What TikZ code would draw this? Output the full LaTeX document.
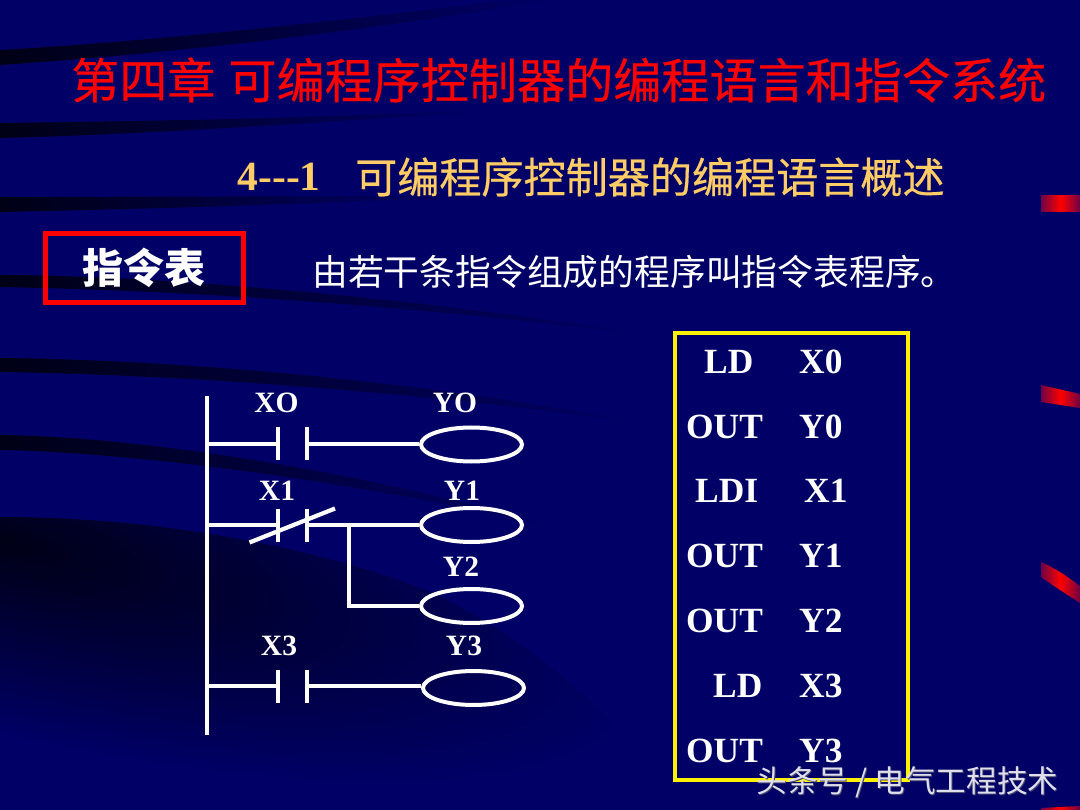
\documentclass[tikz,border=0pt]{standalone}
\usepackage{fontspec}
\usetikzlibrary{fadings,shapes.geometric,calc}
\setmainfont{Liberation Serif}
\newfontfamily\cjk{Noto Sans CJK SC}
\newfontfamily\cjkheavy[FakeBold=0.45]{Noto Sans CJK SC}
\definecolor{navy}{RGB}{0,0,102}
\definecolor{band}{RGB}{0,0,22}
\definecolor{gold}{RGB}{255,204,102}
\definecolor{markred}{RGB}{255,0,0}
\definecolor{markdim}{RGB}{110,0,70}
\definecolor{wm}{RGB}{222,222,236}
\definecolor{wmshadow}{RGB}{70,70,110}
\tikzfading[name=leftfade,left color=transparent!0,right color=transparent!100]
\tikzset{
 wire/.style={draw=white,line width=4.2pt},
 bar/.style={draw=white,line width=4.8pt},
 coil/.style={ellipse,draw=white,line width=4pt,minimum width=101pt,minimum height=34pt,inner sep=0pt},
 lab/.style={text=white,font=\bfseries\fontsize{29.5}{29.5}\selectfont,anchor=center,inner sep=0pt},
 instr/.style={text=white,font=\bfseries\fontsize{35.4}{35.4}\selectfont,anchor=base west,inner sep=0pt},
 swoosh/.style={fill=band,draw=none,path fading=leftfade},
 redmark/.style={left color=markdim,right color=markdim,middle color=markred,draw=none},
 wmtext/.style={font=\cjk\fontsize{30.7}{30.7}\selectfont,inner sep=0pt,anchor=center}
}
\begin{document}
\begin{tikzpicture}[x=1pt,y=-1pt]
\useasboundingbox (0,0) rectangle (1080,810);
\fill[navy] (0,0) rectangle (1080,810);
% dark swooshes
\fill[swoosh] (0,50) .. controls (180,40) and (380,15) .. (516,0) -- (550,0) .. controls (400,25) and (220,50) .. (0,65) -- cycle;
\fill[swoosh] (0,123) .. controls (160,121) and (320,118) .. (480,110) -- (480,112) .. controls (320,122) and (160,134) .. (0,138) -- cycle;
\fill[swoosh] (0,197) -- (450,196) -- (450,198) .. controls (300,204) and (150,209) .. (0,212) -- cycle;
\fill[swoosh] (0,275) .. controls (140,275) and (400,295) .. (650,335) .. controls (400,305) and (200,291) .. (0,287) -- cycle;
\fill[swoosh] (0,358) .. controls (200,360) and (450,385) .. (650,425) .. controls (450,395) and (200,375) .. (0,372) -- cycle;
\fill[swoosh] (0,435) .. controls (160,437) and (400,480) .. (564,530) .. controls (400,490) and (160,453) .. (0,450) -- cycle;
\begin{scope}
\clip (0,517) .. controls (180,517) and (340,555) .. (433,593) .. controls (530,640) and (610,710) .. (660,780) -- (660,810) -- (0,810) -- cycle;
\shade[transform canvas={rotate around={-14:(0,540)}},inner color=band,outer color=navy] (0,540) ellipse (660 and 190);
\end{scope}
% red side marks
\shade[redmark] (1041,196) -- (1080,196) -- (1080,212) -- (1041,212) -- cycle;
\shade[redmark] (1041,385) -- (1080,394) -- (1080,408) -- (1041,402) -- cycle;
\shade[redmark] (1041,562) .. controls (1055,568) and (1068,577) .. (1080,586) -- (1080,603) .. controls (1068,595) and (1055,587) .. (1041,577) -- cycle;
\shade[redmark] (1041,808) -- (1080,806) -- (1080,810) -- (1041,810) -- cycle;
% titles
\node[inner sep=0pt,anchor=west,text=red,font=\cjkheavy\fontsize{48.1}{48.1}\selectfont] (title) at (71,80) {第四章\hspace{13pt}可编程序控制器的编程语言和指令系统};
\node[inner sep=0pt,anchor=base west,text=gold,font=\bfseries\fontsize{41.5}{41.5}\selectfont] (secnum) at (237.5,191) {4-{}-{}-1};
\node[inner sep=0pt,anchor=west,text=gold,font=\cjkheavy\fontsize{42.1}{42.1}\selectfont] (sec) at (355,177) {可编程序控制器的编程语言概述};
\node[draw=red,line width=5pt,inner sep=0pt,minimum width=197.5pt,minimum height=69pt,text=white,font=\cjk\bfseries\fontsize{41}{41}\selectfont] (zlb) at (144.25,268) {指令表};
\node[inner sep=0pt,anchor=west,text=white,font=\cjk\fontsize{35.8}{35.8}\selectfont] (desc) at (312,272) {由若干条指令组成的程序叫指令表程序。};
% ladder rail
\coordinate (railtop) at (207,396);
\coordinate (railbot) at (207,735);
\draw[wire] (railtop) -- (railbot);
% coils
\node[coil] (cy0) at (471.5,444.5) {};
\node[coil] (cy1) at (471.5,525) {};
\node[coil] (cy2) at (471.5,606) {};
\node[coil] (cy3) at (473.5,688) {};
% contact points
\coordinate (r0) at (207,444);
\coordinate (a0) at (278,444);
\coordinate (b0) at (307,444);
\coordinate (r1) at (207,525);
\coordinate (a1) at (278,525);
\coordinate (b1) at (307,525);
\coordinate (br) at (349,525);
\coordinate (bd) at (349,606);
\coordinate (r3) at (207,686);
\coordinate (a3) at (278,686);
\coordinate (b3) at (307,686);
\coordinate (sl1) at (249.5,542.5);
\coordinate (sl2) at (335,508.5);
% rung 0
\draw[wire] (r0) -- (a0);
\draw[wire] (b0) -- (b0 -| cy0.west);
\draw[bar] ($(a0)+(0,-16.5)$) -- ($(a0)+(0,16.5)$);
\draw[bar] ($(b0)+(0,-16.5)$) -- ($(b0)+(0,16.5)$);
% rung 1
\draw[wire] (r1) -- (a1);
\draw[wire] (b1) -- (b1 -| cy1.west);
\draw[bar] ($(a1)+(0,-16.5)$) -- ($(a1)+(0,16.5)$);
\draw[bar] ($(b1)+(0,-16.5)$) -- ($(b1)+(0,16.5)$);
\draw[wire] (sl1) -- (sl2);
\draw[wire] (br) -- (bd) -- (cy2.west);
% rung 3
\draw[wire] (r3) -- (a3);
\draw[wire] (b3) -- (b3 -| cy3.west);
\draw[bar] ($(a3)+(0,-16.5)$) -- ($(a3)+(0,16.5)$);
\draw[bar] ($(b3)+(0,-16.5)$) -- ($(b3)+(0,16.5)$);
% ladder labels
\node[lab] (lx0) at (276.5,403) {XO};
\node[lab] (ly0) at (455,403) {YO};
\node[lab] (lx1) at (277,491) {X1};
\node[lab] (ly1) at (462,491) {Y1};
\node[lab] (ly2) at (461,567) {Y2};
\node[lab] (lx3) at (279,646) {X3};
\node[lab] (ly3) at (464,646) {Y3};
% instruction list
\node[draw=yellow,line width=4pt,inner sep=0pt,minimum width=233pt,minimum height=447pt] (list) at (791.5,556.5) {};
\node[instr] (i1) at (704,373.5) {LD};
\node[instr] (o1) at (799,373.5) {X0};
\node[instr] (i2) at (686,438.5) {OUT};
\node[instr] (o2) at (799,438.5) {Y0};
\node[instr] (i3) at (695,502.5) {LDI};
\node[instr] (o3) at (804,502.5) {X1};
\node[instr] (i4) at (686,567) {OUT};
\node[instr] (o4) at (799,567) {Y1};
\node[instr] (i5) at (686,632) {OUT};
\node[instr] (o5) at (799,632) {Y2};
\node[instr] (i6) at (713,697) {LD};
\node[instr] (o6) at (799,697) {X3};
\node[instr] (i7) at (686,762) {OUT};
\node[instr] (o7) at (799,762) {Y3};
% watermark
\node[wmtext,text=wmshadow] (wms) at (908.5,783.5) {头条号 / 电气工程技术};
\node[wmtext,text=wm] (wmt) at (907.5,782) {头条号 / 电气工程技术};
\end{tikzpicture}
\end{document}
